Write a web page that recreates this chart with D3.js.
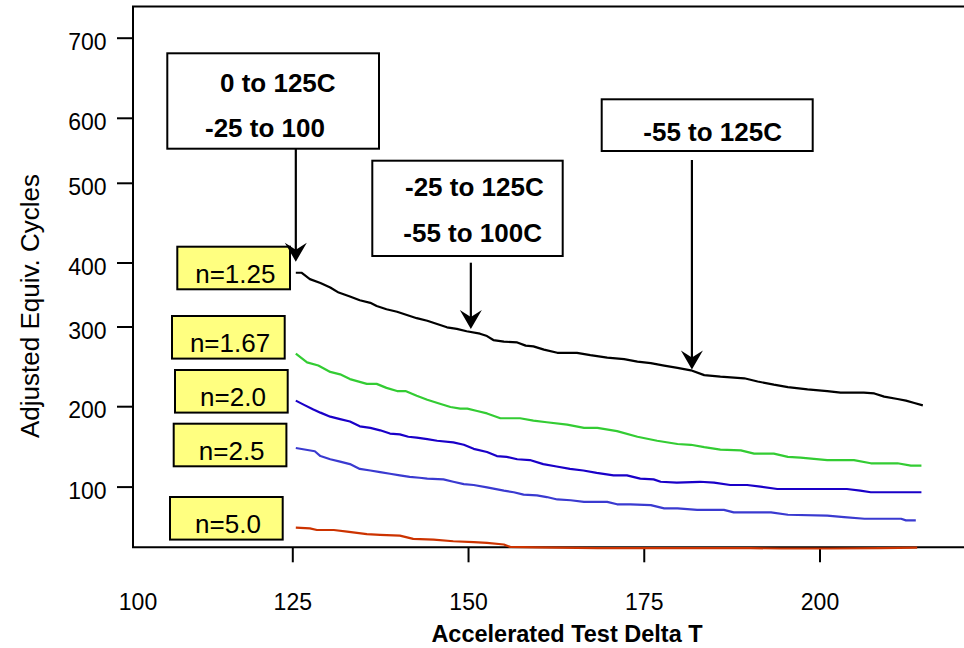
<!DOCTYPE html>
<html>
<head>
<meta charset="utf-8">
<script src="https://cdn.jsdelivr.net/npm/d3@7"></script>
<style>
  html, body { margin: 0; padding: 0; background: #fff; }
  svg { display: block; font-family: "Liberation Sans", Arial, sans-serif; }
</style>
</head>
<body>
<script>
// ---------------- DATA ----------------
const xTicks = [100, 125, 150, 175, 200];
const yTicks = [100, 200, 300, 400, 500, 600, 700];
const xTitle = "Accelerated Test Delta T";
const yTitle = "Adjusted Equiv. Cycles";

const seriesNames = ["n=1.25", "n=1.67", "n=2.0", "n=2.5", "n=5.0"];

const n125 = [[125.5,384],[126.3,384],[127.5,374],[129.0,368],[130.4,361],[131.6,353],[133.2,347],[134.6,341],[136.1,337],[137.0,332],[138.4,327],[139.9,323],[141.3,318],[142.7,313],[144.2,309],[145.6,304],[147.0,299],[148.4,297],[149.8,294],[151.7,291],[152.7,288],[153.6,283],[155.1,281],[157.0,280],[158.2,276],[159.3,275],[160.8,271],[162.7,267],[165.5,267],[167.4,264],[169.8,261],[172.2,259],[174.1,256],[176.0,254],[177.9,251],[179.8,248],[181.7,245],[183.6,239],[185.9,237],[189.3,235],[191.2,231],[193.5,227],[195.5,224],[198.3,221],[201.1,219],[203.0,217],[206.3,217],[207.8,216],[209.2,212],[211.1,209],[212.3,207],[213.5,204],[214.7,201]];

const n167 = [[125.5,266],[127.1,255],[128.7,251],[130.4,243],[131.8,240],[133.2,234],[135.6,228],[137.0,228],[138.4,223],[139.9,219],[141.1,219],[142.7,213],[144.2,208],[146.0,203],[147.5,199],[148.9,197],[149.9,197],[151.3,194],[152.7,191],[154.6,185],[157.4,185],[159.3,182],[161.2,180],[164.1,177],[166.5,173],[168.4,173],[171.2,169],[174.1,162],[176.9,157],[179.8,153],[181.7,152],[183.6,149],[185.9,146],[188.8,145],[190.7,141],[193.5,141],[195.5,137],[197.3,136],[201.1,133],[204.9,133],[207.3,129],[211.1,129],[213.0,126],[214.5,126]];

const n20 = [[125.5,207],[126.6,202],[128.0,196],[129.0,192],[130.4,187],[131.8,184],[133.2,181],[134.6,175],[136.1,173],[137.5,170],[138.9,166],[140.3,165],[141.5,162],[142.7,161],[144.2,159],[145.6,157],[147.9,155],[149.4,152],[150.8,147],[152.7,143],[154.1,138],[155.5,137],[157.0,134],[158.8,133],[160.7,128],[162.6,125],[164.5,122],[166.4,120],[168.3,117],[170.7,114],[172.6,114],[174.5,110],[176.4,109],[177.4,106],[179.7,105],[183.0,106],[185.0,105],[187.3,102],[189.7,102],[191.6,100],[194.0,97],[202.0,97],[203.9,97],[205.8,95],[207.3,93],[214.5,93]];

const n25 = [[125.5,148],[128.2,144],[129.0,138],[130.4,134],[131.8,131],[133.2,128],[134.6,122],[136.1,120],[137.5,118],[138.9,116],[140.3,114],[141.7,112],[143.1,111],[144.2,110],[146.5,109],[147.9,106],[149.4,103],[150.8,102],[152.7,99],[155.1,95],[156.5,93],[157.9,90],[159.8,89],[161.2,87],[162.7,84],[164.6,83],[166.5,81],[169.8,81],[171.2,78],[173.1,78],[176.0,77],[177.9,73],[179.8,73],[182.6,71],[186.4,71],[187.8,68],[193.1,68],[195.5,65],[201.1,64],[203.5,62],[206.4,60],[211.6,60],[212.3,58],[213.7,58]];

const n50 = [[125.5,49],[127.5,48],[128.5,46],[130.9,46],[132.8,44],[135.6,41],[137.5,40],[140.3,39],[142.2,35],[145.1,34],[147.9,32],[150.8,31],[152.7,30],[155.1,28],[156.0,25],[159.8,24.5],[168.4,23.5],[190.2,23.5],[194.5,23],[201.6,23],[208.7,23.5],[213.9,24]];

// annotation texts and the points their arrows point at
const annTexts = [["0 to 125C", "-25 to 100"], ["-25 to 125C", "-55 to 100C"], ["-55 to 125C"]];
const annTargets = [[125.5, 401], [150.4, 297], [181.85, 246]];

// ---------------- LAYOUT ----------------
const W = 964, H = 648;
const frame = { left: 133, top: 6.5, bottom: 547.3 };
const colors = ["#000000", "#33cc33", "#1a00c8", "#3a3ad0", "#cc3300"];
const labelBoxes = [
  { x: 177.3, y: 246.7 }, { x: 172, y: 316 }, { x: 175, y: 370 },
  { x: 173.7, y: 423.7 }, { x: 170, y: 497 }
];
const annBoxes = [
  { x: 167.3, y: 53.3, w: 211.7, h: 95.4, lines: [{ x: 220, y: 92.3 }, { x: 205, y: 136.7 }], arrowTop: 148.7 },
  { x: 372.3, y: 160.7, w: 190.4, h: 95.3, lines: [{ x: 405, y: 196 }, { x: 403.3, y: 241.7 }], arrowTop: 262.7 },
  { x: 601.7, y: 99.3, w: 211, h: 51.7, lines: [{ x: 643.3, y: 141 }], arrowTop: 160 }
];

const svg = d3.select("body").append("svg").attr("width", W).attr("height", H);

const x = d3.scaleLinear().domain([100, 125, 200]).range([137.5, 292.3, 819.5]);
const y = d3.scaleLinear().domain(yTicks).range([486.6, 406.2, 326.5, 262.5, 182.8, 117.8, 37.7]);

// frame
svg.append("path")
  .attr("d", `M${W},${frame.top}H${frame.left}V${frame.bottom}H${W}`)
  .attr("fill", "none").attr("stroke", "#000").attr("stroke-width", 2);

// y axis
const gy = svg.append("g").attr("transform", `translate(${frame.left},0)`)
  .call(d3.axisLeft(y).tickValues(yTicks).tickSize(16).tickPadding(10.5).tickFormat(d3.format("d")));
gy.select(".domain").remove();
gy.selectAll(".tick line").attr("stroke", "#000").attr("stroke-width", 2);
gy.selectAll(".tick text").attr("fill", "#000").attr("font-size", 23)
  .attr("font-family", "Liberation Sans, Arial, sans-serif").attr("dy", "0.5em");

// x axis
const gx = svg.append("g").attr("transform", `translate(0,${frame.bottom})`)
  .call(d3.axisBottom(x).tickValues(xTicks).tickSize(15).tickFormat(d3.format("d")));
gx.select(".domain").remove();
gx.selectAll(".tick line").attr("stroke", "#000").attr("stroke-width", 2)
  .attr("display", d => d === 100 ? "none" : null);
gx.selectAll(".tick text").attr("fill", "#000").attr("font-size", 23)
  .attr("font-family", "Liberation Sans, Arial, sans-serif").attr("y", 46).attr("dy", "0.71em");

// axis titles
svg.append("text").attr("x", 567).attr("y", 642).attr("text-anchor", "middle")
  .attr("font-size", 23.5).attr("font-weight", "bold").text(xTitle);
svg.append("text").attr("transform", "translate(39,306) rotate(-90)").attr("text-anchor", "middle")
  .attr("font-size", 26).text(yTitle);

// series lines
const allSeries = [n125, n167, n20, n25, n50];
const line = d3.line().x(d => x(d[0])).y(d => y(d[1]));
svg.append("g").selectAll("path").data(allSeries).join("path")
  .attr("d", line).attr("fill", "none")
  .attr("stroke", (d, i) => colors[i]).attr("stroke-width", 2.2)
  .attr("stroke-linejoin", "round").attr("stroke-linecap", "butt");

// yellow series labels
const lg = svg.append("g").selectAll("g").data(seriesNames).join("g")
  .attr("transform", (d, i) => `translate(${labelBoxes[i].x},${labelBoxes[i].y})`);
lg.append("rect").attr("width", 112.7).attr("height", 42.6)
  .attr("fill", "#ffff80").attr("stroke", "#000").attr("stroke-width", 2);
lg.append("text").attr("x", 58).attr("y", 36.3).attr("text-anchor", "middle")
  .attr("font-size", 26).attr("fill", "#000").text(d => d);

// annotation boxes + arrows
const ag = svg.append("g");
annBoxes.forEach((b, i) => {
  ag.append("rect").attr("x", b.x).attr("y", b.y).attr("width", b.w).attr("height", b.h)
    .attr("fill", "#fff").attr("stroke", "#000").attr("stroke-width", 2);
  annTexts[i].forEach((t, j) => {
    ag.append("text").attr("x", b.lines[j].x).attr("y", b.lines[j].y)
      .attr("font-size", 26).attr("font-weight", "bold").attr("fill", "#000").text(t);
  });
  const tx = x(annTargets[i][0]), ty = y(annTargets[i][1]);
  ag.append("line").attr("x1", tx).attr("x2", tx).attr("y1", b.arrowTop).attr("y2", ty - 8)
    .attr("stroke", "#000").attr("stroke-width", 2.2);
  ag.append("path").attr("transform", `translate(${tx},${ty})`)
    .attr("d", "M0,0L-11,-19L0,-12L11,-19Z").attr("fill", "#000");
});
</script>
</body>
</html>
